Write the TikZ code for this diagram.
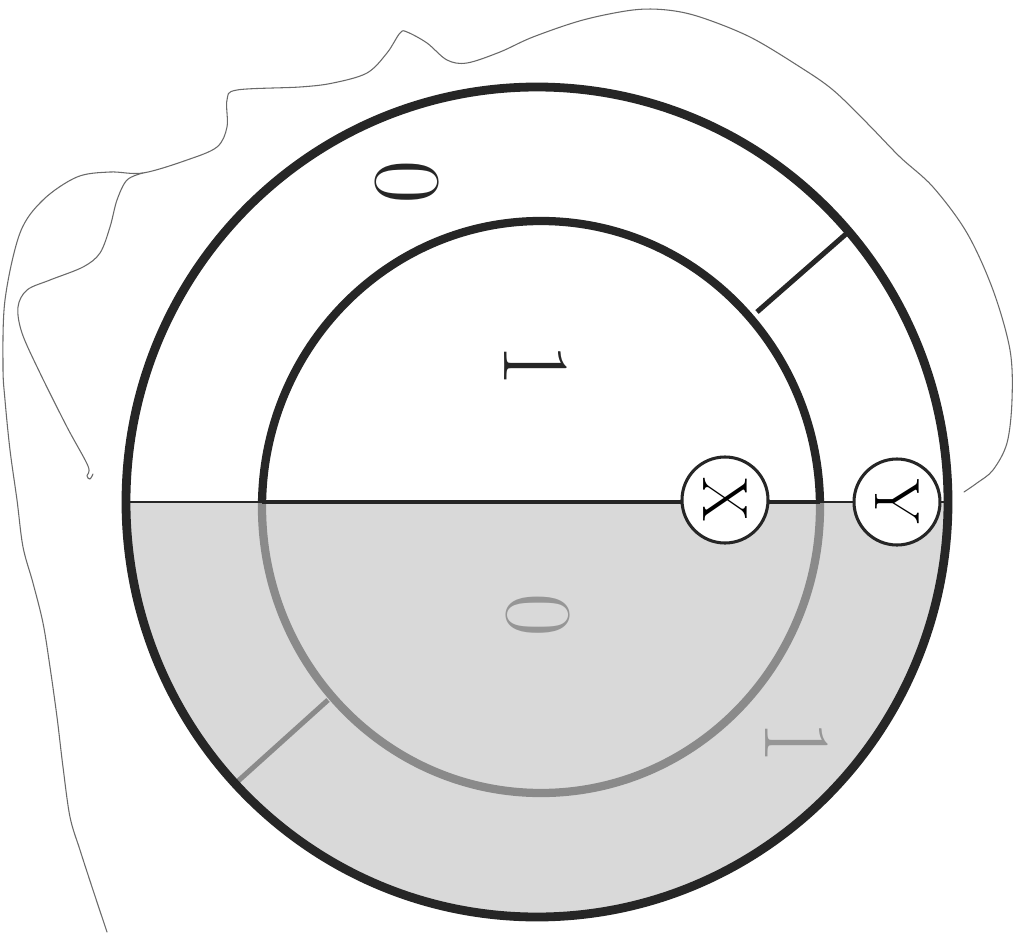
\documentclass[tikz,border=0pt]{standalone}
\usepackage{fontspec}
\definecolor{shadegray}{RGB}{217,217,217}
\definecolor{dimgray}{RGB}{138,138,138}
\definecolor{dimtext}{RGB}{150,150,150}
\definecolor{ink}{RGB}{38,38,38}
\definecolor{pencil}{RGB}{105,105,105}
\begin{document}
\begin{tikzpicture}[x=0.75pt,y=-0.75pt,
  ringline/.style={draw=ink, line width=6.6pt},
  digitlabel/.style={font=\fontsize{71}{71}\selectfont, rotate=-90, inner sep=0pt},
  markcircle/.style={circle, draw=ink, line width=2.3pt, fill=white, minimum size=64.5pt, inner sep=0pt, font=\fontsize{48}{48}\selectfont, rotate=-90},
  spoke/.style={line width=3.8pt},
  pencilline/.style={draw=pencil, line width=0.8pt, line cap=round, line join=round}]
\useasboundingbox (0,0) rectangle (1029,935);
\fill[white] (0,0) rectangle (1029,935);
\coordinate (Oo) at (537,502);
\coordinate (Oi) at (541,507);
% shaded lower half
\begin{scope}
  \clip (0,502) rectangle (1029,935);
  \fill[shadegray] (Oo) ellipse [x radius=411, y radius=415];
  \draw[dimgray, line width=6.2pt] (Oi) ellipse [x radius=279, y radius=286];
\end{scope}
\begin{scope}
  \clip (0,0) rectangle (1029,502);
  \draw[ink, line width=6.2pt] (Oi) ellipse [x radius=279, y radius=286];
\end{scope}
% spokes
\coordinate (s1a) at (757,312);
\coordinate (s1b) at (846,234);
\coordinate (s2a) at (328,700);
\coordinate (s2b) at (237,782);
\draw[spoke, ink] (s1a) -- (s1b);
\draw[spoke, dimgray] (s2a) -- (s2b);
% horizontal lines
\coordinate (bl) at (126,502);
\coordinate (br) at (948,502);
\coordinate (dl) at (262,502);
\coordinate (dr) at (820,502);
\draw[ink, line width=1.3pt] (bl) -- (br);
\draw[ink, line width=3pt] (dl) -- (dr);
% outer ring
\draw[ringline] (Oo) ellipse [x radius=411, y radius=415];
% labels
\node[digitlabel, text=ink] (zeroTop) at (407,182) {0};
\node[digitlabel, text=ink] (oneIn) at (536,365) {1};
\node[digitlabel, text=dimtext] (zeroLow) at (538,615) {0};
\node[digitlabel, text=dimtext] (oneLow) at (797,742) {1};
\node[markcircle] (markX) at (725,500) {X};
\node[markcircle] (markY) at (897,502) {Y};
% pencil outline
\draw[pencilline] plot[smooth, tension=0.55] coordinates {
 (107,932) (93,890) (80,850) (70,817) (63,767) (57,717) (50,667) (43,623) (33,583) (23,547) (17,500) (10,450) (5,400) (3,367) (5,300) (20,233) (43,200) (77,177) (110,172) (143,173) (187,160) (217,147) (227,127) (227,100) (237,90) (300,87) (333,83) (367,73) (387,53) (400,33) (407,32) (427,43) (447,60) (467,63) (500,52) (533,37) (583,20) (633,10) (667,10) (700,17) (750,37) (800,67) (833,90) (867,123) (900,157) (933,187) (967,233) (993,290) (1010,350) (1012,400) (1007,443) (993,470) (977,483) (964,492)};
\draw[pencilline] plot[smooth, tension=0.55] coordinates {
 (93,474) (90,479) (87,476) (88,466) (67,427) (40,373) (22,333) (18,307) (27,290) (50,280) (83,267) (100,253) (110,227) (117,200) (127,180) (143,173)};
\end{tikzpicture}
\end{document}
